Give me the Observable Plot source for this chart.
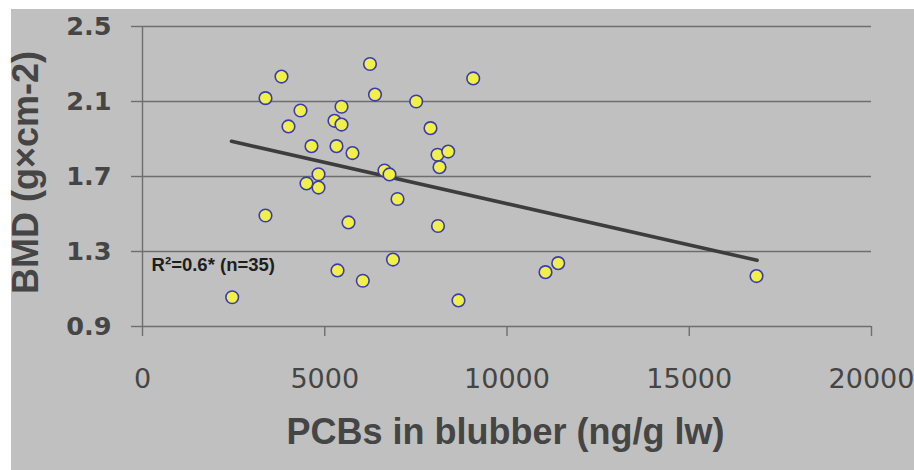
<!DOCTYPE html>
<html><head><meta charset="utf-8">
<script src="https://cdn.jsdelivr.net/npm/d3@7"></script>
<script src="https://cdn.jsdelivr.net/npm/@observablehq/plot@0.6"></script>
<style>
html,body{margin:0;padding:0;background:#fff;overflow:hidden;}
#wrap{position:absolute;left:11px;top:9px;width:903px;height:461px;background:#c0c0c0;}
</style></head><body><div id="wrap"></div>
<script>
// PCBs in blubber (ng/g lw)
const pcbs = [3374, 3813, 4335, 4005, 4636, 4829, 4499, 4829, 3374, 5460,
              5267, 5460, 5322, 5761, 6241, 6379, 6639, 6776, 6996, 5652,
              7509, 7901, 8093, 8387, 8148, 8107, 9073, 6872, 5350, 6044,
              2461, 8669, 11056, 11405, 16845];
// BMD (g x cm-2)
const bmd  = [2.118, 2.233, 2.052, 1.967, 1.862, 1.712, 1.663, 1.641, 1.492, 2.072,
              1.997, 1.977, 1.862, 1.825, 2.300, 2.137, 1.732, 1.711, 1.580, 1.455,
              2.100, 1.958, 1.816, 1.833, 1.750, 1.436, 2.223, 1.257, 1.199, 1.144,
              1.056, 1.039, 1.190, 1.238, 1.169];
// fitted trend line endpoints
const trendX = [2442, 16860];
const trendY = [1.888, 1.253];
const xTicks = [0, 5000, 10000, 15000, 20000];
const yTicks = [0.9, 1.3, 1.7, 2.1, 2.5];
const xLabel = "PCBs in blubber (ng/g lw)";
const yLabel = "BMD (g×cm-2)";
const note = "R²=0.6* (n=35)";

const points = pcbs.map((x, i) => ({x, y: bmd[i]}));
const trend = trendX.map((x, i) => ({x, y: trendY[i]}));

const chart = Plot.plot({
  width: 903, height: 461,
  marginLeft: 131, marginRight: 43, marginTop: 17, marginBottom: 144,
  style: {background: "#c0c0c0", overflow: "visible"},
  x: {domain: [0, 20000]},
  y: {domain: [0.9, 2.5]},
  marks: [
    Plot.ruleY(yTicks, {x1: 0, x2: 20000, stroke: "#6e6e6e", strokeWidth: 1.4}),
    Plot.ruleX([0], {y1: 0.9, y2: 2.5, stroke: "#6e6e6e", strokeWidth: 1.4}),
    Plot.axisY({ticks: yTicks, tickSize: 11, tickPadding: 20, tickFormat: d3.format(".1f"),
      fontSize: 25.6, fontWeight: "bold", fontFamily: "DejaVu Sans",
      fill: "#454545", stroke: "#6e6e6e", strokeWidth: 1.4, label: null}),
    Plot.axisX({ticks: xTicks, tickSize: 10, tickPadding: 32, tickFormat: d3.format("d"),
      fontSize: 27, fontFamily: "DejaVu Sans",
      fill: "#454545", stroke: "#6e6e6e", strokeWidth: 1.4, label: null}),
    Plot.line(trend, {x: "x", y: "y", stroke: "#3d3d3d", strokeWidth: 3.6}),
    Plot.dot(points, {x: "x", y: "y", r: 6.3, fill: "#f0f048", stroke: "#3b3bb0", strokeWidth: 1.6}),
    Plot.text([note], {x: 250, y: 1.225, text: d => d, textAnchor: "start",
      fontSize: 18.5, fontWeight: "bold", fontFamily: "Liberation Sans", fill: "#1e1e1e"}),
    Plot.text([xLabel], {frameAnchor: "bottom", dy: 117, dx: -1.5, text: d => d,
      fontSize: 36, fontWeight: "bold", fontFamily: "Liberation Sans", fill: "#454545"}),
    Plot.text([yLabel], {frameAnchor: "left", textAnchor: "middle", rotate: -90, dx: -116, dy: -4, text: d => d,
      fontSize: 36, fontWeight: "bold", fontFamily: "Liberation Sans", fill: "#454545"})
  ]
});
document.getElementById("wrap").appendChild(chart);
</script>
</body></html>
